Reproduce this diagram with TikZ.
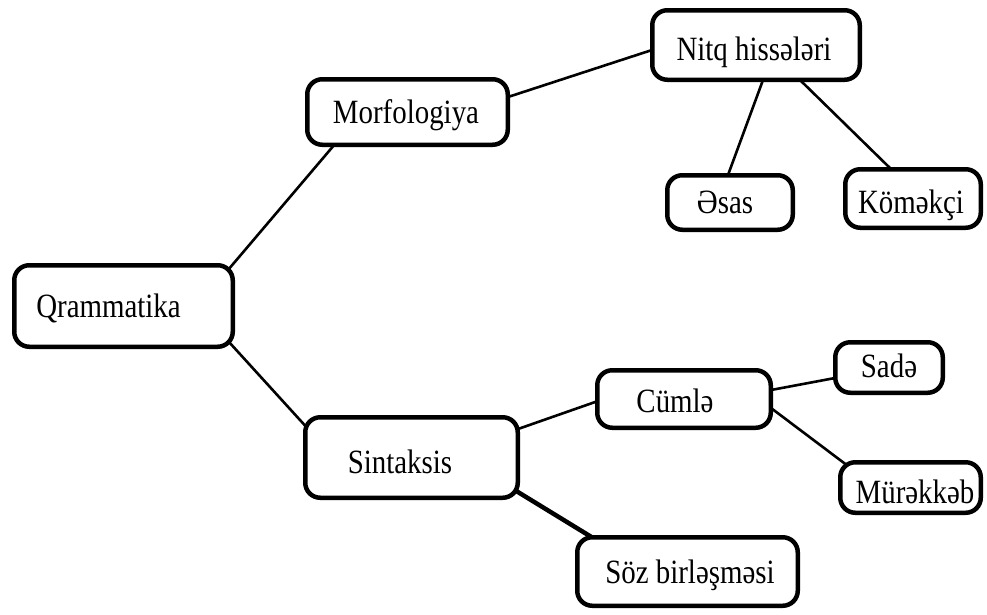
\documentclass[tikz,border=0pt]{standalone}
\usepackage{fontspec}
\setmainfont{Liberation Serif}[FakeStretch=0.85]
\usetikzlibrary{calc,backgrounds}
\begin{document}
\begin{tikzpicture}[x=1pt,y=-1pt,
  box/.style={draw, line width=4.5pt, rounded corners=15pt, fill=white, inner sep=0pt},
  lbl/.style={anchor=base, inner sep=0pt, font=\fontsize{34}{40}\selectfont},
  conn/.style={line width=2.6pt},
  thickconn/.style={line width=4.5pt}]
\useasboundingbox (0,0) rectangle (987,614);
% boxes
\node[box, minimum width=218.5pt, minimum height=81.5pt] (qr) at (123.5,306) {};
\node[box, minimum width=200.5pt, minimum height=65.5pt] (mo) at (407.5,112) {};
\node[box, minimum width=207.5pt, minimum height=69.5pt] (nh) at (756,45) {};
\node[box, minimum width=125.5pt, minimum height=54.5pt] (es) at (730,202.5) {};
\node[box, minimum width=135.5pt, minimum height=58.5pt] (ko) at (913,198.5) {};
\node[box, minimum width=212.5pt, minimum height=80.5pt] (si) at (411.5,457.5) {};
\node[box, minimum width=173.5pt, minimum height=57.5pt] (cu) at (684,399) {};
\node[box, minimum width=107.5pt, minimum height=50.5pt] (sa) at (889,367.5) {};
\node[box, minimum width=140.5pt, minimum height=50.5pt] (mu) at (910.5,487.5) {};
\node[box, minimum width=220.5pt, minimum height=68.5pt] (so) at (687.5,571.5) {};
% labels
\node[lbl] (tqr) at (108.5,317) {Qrammatika};
\node[lbl] (tmo) at (406,123) {Morfologiya};
\node[lbl] (tnh) at (754,60) {Nitq hissələri};
\node[lbl] (tes) at (725,213) {Əsas};
\node[lbl] (tko) at (911,213) {Köməkçi};
\node[lbl] (tsi) at (400,473) {Sintaksis};
\node[lbl] (tcu) at (675,412) {Cümlə};
\node[lbl] (tsa) at (889,377) {Sadə};
\node[lbl] (tmu) at (915,503) {Mürəkkəb};
\node[lbl] (tso) at (690,583) {Söz birləşməsi};
% connectors
\begin{scope}[on background layer]
\draw[conn] ($(qr.center)+(104.5,-36)$) -- ($(mo.center)+(-72.5,32)$);
\draw[conn] ($(qr.center)+(105.5,36)$) -- ($(si.center)+(-101.5,-26.5)$);
\draw[conn] ($(mo.center)+(100.5,-15)$) -- ($(nh.center)+(-104,5)$);
\draw[conn] ($(nh.center)+(7,35)$) -- ($(es.center)+(-2,-27.5)$);
\draw[conn] ($(nh.center)+(44,35)$) -- ($(ko.center)+(-21,-28.5)$);
\draw[conn] ($(si.center)+(106.5,-28.5)$) -- ($(cu.center)+(-86,2)$);
\draw[thickconn] ($(si.center)+(101.5,31.5)$) -- ($(so.center)+(-89.5,-30.5)$);
\draw[conn] ($(cu.center)+(87,-9)$) -- ($(sa.center)+(-54,10.5)$);
\draw[conn] ($(cu.center)+(87,9)$) -- ($(mu.center)+(-62.5,-21.5)$);
\end{scope}
\end{tikzpicture}
\end{document}
